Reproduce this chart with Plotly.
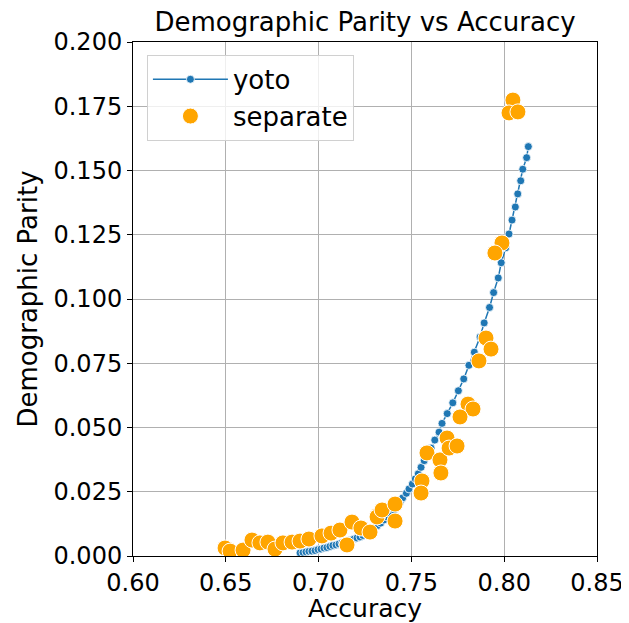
import plotly.graph_objects as go

# yoto curve (accuracy, demographic parity)
yoto_acc = [0.6900, 0.6916, 0.6932, 0.6948, 0.6964, 0.6981, 0.6997, 0.7013, 0.7029, 0.7045,
            0.7061, 0.7077, 0.7094, 0.7110, 0.7126, 0.7142, 0.7158, 0.7174, 0.7191, 0.7207,
            0.7223, 0.7239, 0.7255, 0.7269, 0.7281, 0.7298, 0.7316, 0.7335, 0.7352, 0.7370,
            0.7388, 0.7406, 0.7422, 0.7439, 0.7453, 0.7473, 0.7487, 0.7505, 0.7521, 0.7537,
            0.7552, 0.7569, 0.7586, 0.7606, 0.7626, 0.7649, 0.7665, 0.7693, 0.7723, 0.7753,
            0.7782, 0.7810, 0.7839, 0.7870, 0.7892, 0.7921, 0.7943, 0.7968, 0.7984, 0.8008,
            0.8026, 0.8042, 0.8060, 0.8073, 0.8089, 0.8100, 0.8121, 0.8130]
yoto_dp = [0.0012, 0.0014, 0.0016, 0.0018, 0.0019, 0.0021, 0.0025, 0.0027, 0.0031, 0.0033,
           0.0037, 0.0041, 0.0043, 0.0047, 0.0051, 0.0054, 0.0058, 0.0062, 0.0066, 0.0070,
           0.0074, 0.0080, 0.0086, 0.0093, 0.0100, 0.0109, 0.0118, 0.0128, 0.0140, 0.0152,
           0.0165, 0.0179, 0.0193, 0.0209, 0.0226, 0.0244, 0.0261, 0.0280, 0.0300, 0.0320,
           0.0345, 0.0371, 0.0396, 0.0420, 0.0451, 0.0482, 0.0516, 0.0554, 0.0596, 0.0643,
           0.0689, 0.0742, 0.0793, 0.0852, 0.0907, 0.0967, 0.1025, 0.1082, 0.1141, 0.1199,
           0.1253, 0.1307, 0.1358, 0.1409, 0.1460, 0.1505, 0.1550, 0.1593]

# separately trained models
sep_acc = [0.6496, 0.6523, 0.6593, 0.6641, 0.6684, 0.6727, 0.6765, 0.6808, 0.6857, 0.6900,
           0.6948, 0.7018, 0.7067, 0.7115, 0.7153, 0.7180, 0.7228, 0.7320, 0.7277, 0.7315,
           0.7342, 0.7412, 0.7412, 0.7557, 0.7552, 0.7584, 0.7654, 0.7659, 0.7692, 0.7703,
           0.7746, 0.7805, 0.7832, 0.7762, 0.7902, 0.7929, 0.7864, 0.7988, 0.7950, 0.8047,
           0.8026, 0.8074]
sep_dp = [0.0031, 0.0019, 0.0023, 0.0062, 0.0051, 0.0054, 0.0027, 0.0051, 0.0054, 0.0058,
          0.0066, 0.0078, 0.0089, 0.0101, 0.0043, 0.0132, 0.0109, 0.0160, 0.0093, 0.0152,
          0.0179, 0.0202, 0.0136, 0.0292, 0.0245, 0.0401, 0.0374, 0.0323, 0.0459, 0.0420,
          0.0428, 0.0591, 0.0572, 0.0541, 0.0848, 0.0805, 0.0759, 0.1218, 0.1179, 0.1774,
          0.1724, 0.1728]

x_ticks = [0.60, 0.65, 0.70, 0.75, 0.80, 0.85]
y_ticks = [0.000, 0.025, 0.050, 0.075, 0.100, 0.125, 0.150, 0.175, 0.200]

FONT = "DejaVu Sans"
# the page body adds an 8px margin, so the figure is 8px smaller than the window
W, H = 621, 615

fig = go.Figure()
fig.add_trace(go.Scatter(
    x=yoto_acc, y=yoto_dp, mode="lines+markers", name="yoto",
    line=dict(color="#1f77b4", width=1.5),
    marker=dict(color="#1f77b4", size=8, line=dict(color="white", width=0.8)),
))
fig.add_trace(go.Scatter(
    x=sep_acc, y=sep_dp, mode="markers", name="separate",
    marker=dict(color="#ffa500", size=16, line=dict(color="white", width=1)),
))

axis_common = dict(
    showline=True, linecolor="black", linewidth=1, mirror=True,
    showgrid=True, gridcolor="#b0b0b0", gridwidth=1,
    ticks="outside", ticklen=5, tickcolor="black", tickwidth=1,
    zeroline=False,
    tickfont=dict(family=FONT, size=24, color="black"),
)

fig.update_layout(
    width=W, height=H,
    paper_bgcolor="white", plot_bgcolor="white",
    margin=dict(l=125, r=32, t=34, b=67, autoexpand=False),
    font=dict(family=FONT, color="black"),
    title=dict(text="Demographic Parity vs Accuracy", xref="paper", x=0.5, xanchor="center",
               y=1 - 14 / H, yref="container", yanchor="middle",
               font=dict(family=FONT, size=26, color="black")),
    xaxis=dict(range=[0.60, 0.85], tickvals=x_ticks, ticktext=[f"{v:.2f}" for v in x_ticks],
               title=dict(text="Accuracy", font=dict(family=FONT, size=25), standoff=4),
               **axis_common),
    yaxis=dict(range=[0.0, 0.2], tickvals=y_ticks, ticktext=[f"{v:.3f}" for v in y_ticks],
               title=dict(text="Demographic Parity", font=dict(family=FONT, size=26), standoff=8),
               **axis_common),
    legend=dict(x=0.03, y=0.975, xanchor="left", yanchor="top",
                bgcolor="rgba(255,255,255,0.8)", bordercolor="#d0d0d0", borderwidth=1,
                font=dict(family=FONT, size=26, color="black"),
                itemwidth=75, tracegroupgap=0),
    showlegend=True,
)

fig.write_html("out.html")
